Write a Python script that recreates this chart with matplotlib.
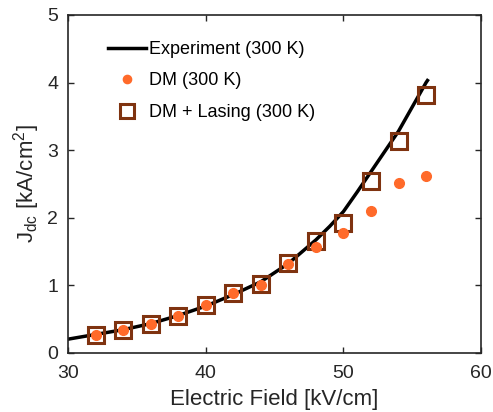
import matplotlib
matplotlib.use("Agg")
import matplotlib.pyplot as plt

plt.rcParams['font.family'] = ['Liberation Sans', 'DejaVu Sans']

# Experiment (300 K) curve
exp_field = [30, 32, 34, 36, 38, 40, 42, 44, 46, 48, 49, 50, 51, 52, 53, 54, 55, 56, 56.1]
exp_jdc = [0.20, 0.27, 0.34, 0.43, 0.55, 0.69, 0.86, 1.05, 1.32, 1.67, 1.87, 2.09, 2.38, 2.68, 2.98, 3.28, 3.64, 4.00, 4.03]

# DM (300 K)
dm_field = [32, 34, 36, 38, 40, 42, 44, 46, 48, 50, 52, 54, 56]
dm_jdc = [0.26, 0.33, 0.42, 0.55, 0.70, 0.88, 1.00, 1.32, 1.57, 1.77, 2.10, 2.51, 2.62]

# DM + Lasing (300 K)
las_field = [32, 34, 36, 38, 40, 42, 44, 46, 48, 50, 52, 54, 56]
las_jdc = [0.26, 0.34, 0.43, 0.54, 0.70, 0.88, 1.01, 1.33, 1.65, 1.92, 2.54, 3.14, 3.82]

xticks = [30, 40, 50, 60]
yticks = [0, 1, 2, 3, 4, 5]

fig = plt.figure(figsize=(4.93, 4.12), dpi=100)
ax = fig.add_axes([0.138, 0.144, 0.838, 0.8196])

axc = '#262626'
ax.plot(exp_field, exp_jdc, color='black', lw=2.5, zorder=2, label='Experiment (300 K)')
ax.plot(dm_field, dm_jdc, 'o', color='#FF6A2A', ms=7, mec='#FF6A2A', zorder=4, label='DM (300 K)')
ax.plot(las_field, las_jdc, 's', mfc='none', mec='#7F3310', mew=2.2, ms=11.5, zorder=3,
        label='DM + Lasing (300 K)')

ax.set_xlim(30, 60)
ax.set_ylim(0, 5)
ax.set_xticks(xticks)
ax.set_yticks(yticks)
ax.tick_params(direction='in', length=4.5, width=1, top=True, right=True,
               labelsize=14, colors=axc)
ax.tick_params(axis='x', pad=9)
ax.tick_params(axis='y', pad=7)
for s in ax.spines.values():
    s.set_color(axc)
    s.set_linewidth(1.2)

ax.set_xlabel('Electric Field [kV/cm]', fontsize=16, color=axc, labelpad=5)
ax.set_ylabel('J$_{\\mathregular{dc}}$ [kA/cm$^{\\mathregular{2}}$]', fontsize=16, color=axc, labelpad=4)

leg = ax.legend(loc='upper left', bbox_to_anchor=(0.07, 0.955), frameon=False, fontsize=13,
                handlelength=2.1, handletextpad=0.17, labelspacing=0.8, borderaxespad=0.2,
                markerscale=0.85)

fig.savefig('out.png', dpi=100)
